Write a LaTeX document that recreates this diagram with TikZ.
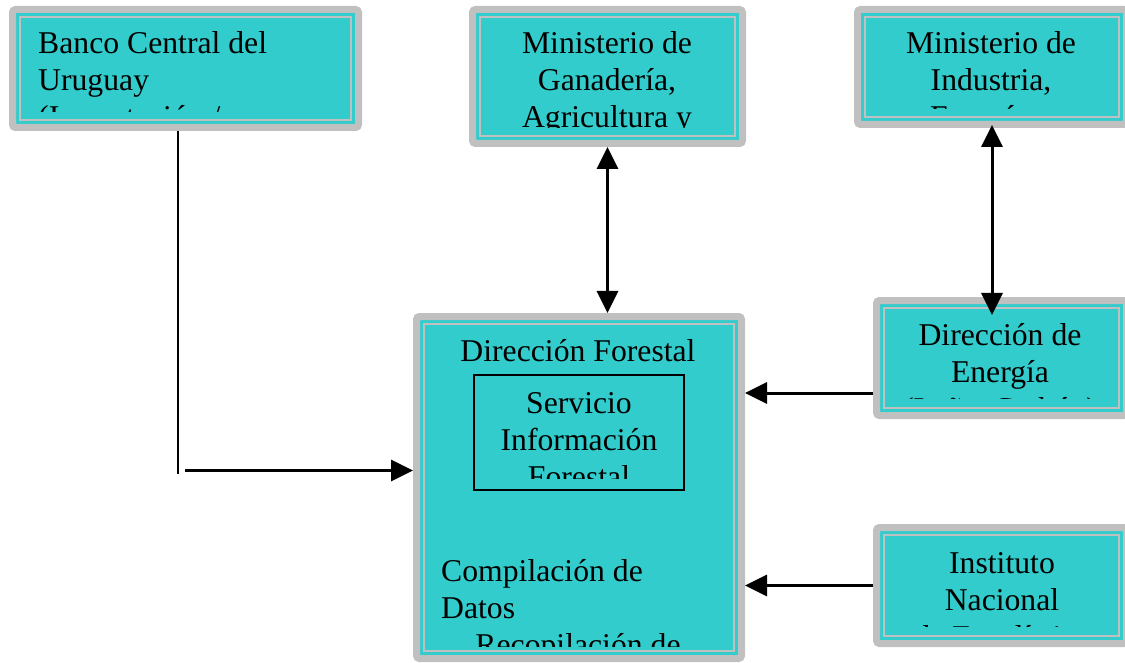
\documentclass[tikz,border=0pt]{standalone}
\usepackage{fontspec}
\setmainfont{Liberation Serif}
\usetikzlibrary{shapes,arrows,positioning,calc,arrows.meta}
\definecolor{boxteal}{HTML}{33CCCC}
\definecolor{boxgray}{HTML}{C0C0C0}
\tikzset{
  panel/.style={draw=boxgray, fill=boxteal, line width=7pt, rounded corners=3pt, inner sep=0pt, outer sep=3.5pt},
  rim/.style={draw=boxgray, line width=2pt},
  boxtext/.style={font=\fontsize{31.7pt}{37pt}\selectfont, inner sep=0pt, anchor=base},
  flow/.style={line width=3pt, -{Triangle[length=22pt,width=21pt]}},
  twoway/.style={line width=3pt, {Triangle[length=22pt,width=21pt]}-{Triangle[length=22pt,width=21pt]}}
}
\newcommand{\rimline}[1]{\draw[rim] ([shift={(11,11)}]#1.north west) rectangle ([shift={(-11,-11)}]#1.south east);}

\begin{document}
\begin{tikzpicture}[x=1pt, y=-1pt]
    \useasboundingbox (0,0) rectangle (1125,663);

    % boxes
    \node[panel, minimum width=346pt, minimum height=118pt] (banco) at (185.5,68.5) {};
    \node[panel, minimum width=270pt, minimum height=134pt] (mgap) at (607.5,76.5) {};
    \node[panel, minimum width=269pt, minimum height=115pt] (miem) at (992,67) {};
    \node[panel, minimum width=325pt, minimum height=342pt] (dirfor) at (579,487.5) {};
    \node[panel, minimum width=250pt, minimum height=115pt] (direner) at (1001.5,358) {};
    \node[panel, minimum width=250pt, minimum height=116pt] (ine) at (1001.5,585.5) {};
    \rimline{banco} \rimline{mgap} \rimline{miem}
    \rimline{dirfor} \rimline{direner} \rimline{ine}
    \node[draw, line width=2pt, fill=boxteal, minimum width=210pt, minimum height=115pt, outer sep=0pt] (sif) at (579,432.5) {};

    % texts (base anchor = last line)
    \begin{scope}
        \clip (22,20) rectangle (350,112);
        \node[boxtext, anchor=base west, align=left] (bancotxt) at (38,128) {Banco Central del\\Uruguay\\(Importación /};
    \end{scope}
    \begin{scope}
        \clip (482,20) rectangle (733,128);
        \node[boxtext, align=center] (mgaptxt) at (607,128) {Ministerio de\\Ganadería,\\Agricultura y};
    \end{scope}
    \begin{scope}
        \clip (867,20) rectangle (1125,109);
        \node[boxtext, align=center] (miemtxt) at (991,128) {Ministerio de\\Industria,\\Energía y};
    \end{scope}
    \begin{scope}
        \clip (886,310) rectangle (1125,398);
        \node[boxtext, align=center] (direnertxt) at (1000,419) {Dirección de\\Energía\\(Leña, Carbón)};
    \end{scope}
    \begin{scope}
        \clip (886,537) rectangle (1125,626);
        \node[boxtext, align=center] (inetxt) at (1002,647) {Instituto\\Nacional\\de Estadística};
    \end{scope}
    \node[boxtext] (dirfortxt) at (578,361) {Dirección Forestal};
    \begin{scope}
        \clip (475,376) rectangle (683,478);
        \node[boxtext, align=center] (siftxt) at (579,487) {Servicio\\Información\\Forestal};
    \end{scope}
    \begin{scope}
        \clip (426,326) rectangle (732,646);
        \node[boxtext, anchor=base west, align=left] (comptxt) at (441,618) {Compilación de\\Datos};
        \node[boxtext] (recotxt) at (578,655) {Recopilación de};
    \end{scope}

    % connectors
    \draw[twoway] (mgap.south) -- (mgap.south |- dirfor.north);
    \draw[twoway] ([yshift=3pt]miem.south) -- ($(miem.south |- direner.north)+(0,18)$);
    \coordinate (deout) at ([yshift=-35pt]direner.west);
    \draw[flow] (deout) -- (deout -| dirfor.east);
    \draw[flow] (ine.west) -- (ine.west -| dirfor.east);
    \coordinate (bend) at (178,474);
    \draw[line width=1.5pt] (banco.south -| bend) -- (bend);
    \coordinate (bstart) at (185,470.5);
    \draw[flow] (bstart) -- (bstart -| dirfor.west);
\end{tikzpicture}
\end{document}
